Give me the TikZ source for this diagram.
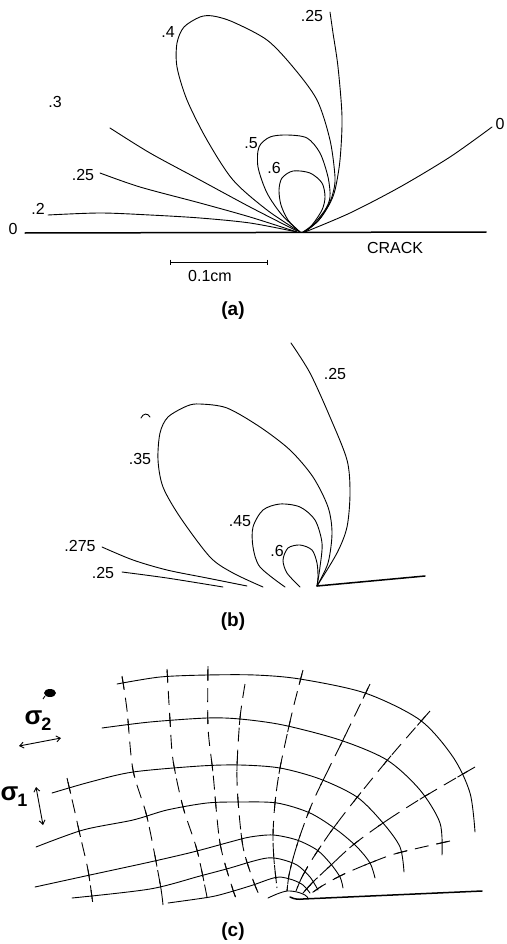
\documentclass[tikz,border=0pt]{standalone}
\usepackage{fontspec}
\setmainfont{Liberation Sans}
\usetikzlibrary{intersections,arrows.meta}
\tikzset{
  curve/.style={line width=0.9pt, line cap=round, line join=round},
  crackline/.style={line width=1.5pt, line cap=round},
  dashline/.style={line width=0.9pt, dash pattern=on 14pt off 8pt},
  lbl/.style={font=\fontsize{16}{16}\selectfont, inner sep=0pt},
  figcap/.style={font=\fontsize{19}{19}\selectfont\bfseries, inner sep=0pt},
  sig/.style={inner sep=0pt},
  twohead/.style={line width=0.9pt, {Straight Barb[length=4pt,width=6pt]}-{Straight Barb[length=4pt,width=6pt]}},
}
\newcommand{\sgm}[1]{{\fontsize{26}{26}\selectfont σ}\kern-1pt\raisebox{-6pt}{\fontsize{18}{18}\selectfont\bfseries #1}}
\newcommand{\setdp}[2]{\expandafter\def\csname dp#1\endcsname{#2}}
\newcommand{\setsp}[2]{\expandafter\def\csname sp#1\endcsname{#2}}
\begin{document}
\begin{tikzpicture}[x=1pt,y=-1pt]
\fill[white] (0,0) rectangle (506,944);
\useasboundingbox (0,0) rectangle (506,944);

% ================= panel (a) =================
\draw[crackline] (25,233) -- (486,232);
\draw[line width=0.9pt] (170,262) -- (267,262);
\draw[line width=0.9pt] (170,259.5) -- (170,264.5);
\draw[line width=0.9pt] (267,259.5) -- (267,264.5);
\node[lbl] (crack) at (395,248) {CRACK};
\node[lbl] (scale) at (210,276) {0.1cm};

\draw[curve] plot[smooth] coordinates {(48,215) (100,213) (150,215) (200,218) (250,223) (297,232)};
\draw[curve] plot[smooth] coordinates {(100,173) (140,187) (200,203) (250,217) (297,232)};
\draw[curve] plot[smooth] coordinates {(110,128) (150,153) (200,180) (250,207) (297,231)};
\draw[curve] plot[smooth] coordinates {(300,232) (267,210) (233,180) (207,140) (187,100) (177,67) (177,43) (184,27) (200,17) (213,16) (233,22) (267,40) (293,67) (317,100) (330,140) (335,177) (333,193) (328,206) (318,221) (304,232)};
\draw[curve] plot[smooth] coordinates {(330,12) (333,33) (338,67) (342,117) (340,160) (335,190) (329,205) (319,220) (305,232)};
\draw[curve] plot[smooth] coordinates {(300,232) (282,215) (267,193) (258,167) (259,147) (270,137) (287,135) (307,138) (320,153) (328,177) (330,197) (325,210) (312,226) (303,232)};
\draw[curve] plot[smooth] coordinates {(300,232) (288,220) (281,205) (279,190) (282,178) (293,171) (310,173) (322,183) (325,197) (322,210) (312,225) (303,232)};
\draw[curve] plot[smooth] coordinates {(305,232) (350,213) (400,187) (450,157) (492,127)};

\node[lbl] (a0) at (13,229) {0};
\node[lbl] (a2) at (38,209) {.2};
\node[lbl] (a25) at (83,175) {.25};
\node[lbl] (a3) at (55,102) {.3};
\node[lbl] (a4) at (168,32) {.4};
\node[lbl] (a25b) at (312,16) {.25};
\node[lbl] (a5) at (251,143) {.5};
\node[lbl] (a6) at (274,168) {.6};
\node[lbl] (a0b) at (500,124) {0};
\node[figcap] (capa) at (233,311) {(a)};

% ================= panel (b) =================
\draw[crackline] (317,586) -- (425,576);
\draw[curve] plot[smooth] coordinates {(291,343) (310,373) (330,417) (347,460) (350,493) (347,527) (337,553) (317,586)};
\draw[curve] plot[smooth] coordinates {(263,587) (233,573) (210,557) (180,517) (163,487) (158,460) (160,433) (168,417) (187,406) (200,404) (227,408) (260,427) (290,450) (313,477) (328,507) (332,533) (328,563) (317,586)};
\draw[curve] plot[smooth] coordinates {(285,587) (260,567) (253,547) (253,527) (263,510) (280,504) (300,507) (315,520) (322,543) (320,567) (317,586)};
\draw[curve] plot[smooth] coordinates {(300,587) (287,573) (283,560) (288,548) (300,545) (312,550) (317,563) (318,577) (317,586)};
\draw[curve] plot[smooth] coordinates {(102,547) (133,560) (167,570) (207,578) (247,586)};
\draw[curve] plot[smooth] coordinates {(122,572) (167,578) (223,587)};
\draw[curve] (141,418) .. controls (143,413) and (148,413) .. (150,417);

\node[lbl] (b25) at (335,374) {.25};
\node[lbl] (b35) at (140,459) {.35};
\node[lbl] (b45) at (240,521) {.45};
\node[lbl] (b6) at (277,551) {.6};
\node[lbl] (b275) at (80,546) {.275};
\node[lbl] (b25b) at (103,573) {.25};
\node[figcap] (capb) at (233,622) {(b)};

% ================= panel (c) =================
\setsp{1}{plot[smooth] coordinates {(117,684) (160,677) (207,675) (255,675) (300,679) (365,693) (420,720) (453,757) (470,793) (475,832)}}
\setsp{2}{plot[smooth] coordinates {(102,728) (150,722) (207,718) (240,719) (283,725) (340,740) (387,760) (420,790) (440,823) (442,855)}}
\setsp{3}{plot[smooth] coordinates {(52,793) (90,782) (133,772) (200,766) (240,765) (280,768) (320,779) (357,797) (383,823) (400,847) (404,872)}}
\setsp{4}{plot[smooth] coordinates {(36,847) (83,830) (133,820) (167,810) (207,803) (240,802) (277,803) (310,813) (337,830) (357,847) (370,863) (375,878)}}
\setsp{5}{plot[smooth] coordinates {(35,887) (90,875) (150,862) (193,852) (230,842) (250,837) (273,835) (297,840) (317,850) (330,863) (340,877) (343,888)}}
\setsp{6}{plot[smooth] coordinates {(72,898) (150,889) (200,876) (230,868) (250,862) (267,858) (280,859) (297,865) (310,877) (318,890)}}
\setsp{7}{plot[smooth] coordinates {(168,903) (210,897) (230,892) (253,885) (270,879) (280,877) (293,880) (303,885) (310,893)}}
\setsp{8}{plot[smooth] coordinates {(268,898) (277,894) (287,891) (297,892) (305,895) (308,898)}}

\setdp{1}{plot[smooth] coordinates {(67,778) (74,808) (80,835) (88,870) (93,905)}}
\setdp{2}{plot[smooth] coordinates {(122,676) (127,710) (133,770) (147,817) (160,883) (163,905)}}
\setdp{3}{plot[smooth] coordinates {(167,669) (170,720) (173,760) (183,807) (197,850) (207,897)}}
\setdp{4}{plot[smooth] coordinates {(208,666) (208,727) (213,773) (220,843) (233,890) (238,902)}}
\setdp{5}{plot[smooth] coordinates {(245,684) (240,718) (237,767) (238,800) (243,847) (253,880) (260,897)}}
\setdp{6}{plot[smooth] coordinates {(303,670) (292,713) (280,768) (275,803) (273,835) (274,860) (277,888)}}
\setdp{7}{plot[smooth] coordinates {(370,684) (343,740) (315,797) (302,830) (294,855) (289,875) (287,891)}}
\setdp{8}{plot[smooth] coordinates {(430,711) (390,757) (355,800) (332,830) (313,858) (302,877) (296,891)}}
\setdp{9}{plot[smooth] coordinates {(475,767) (422,798) (383,823) (353,845) (330,866) (313,882) (303,893)}}
\setdp{10}{plot[smooth] coordinates {(450,841) (398,853) (370,863) (342,875) (322,886) (309,895)}}

\foreach \j in {1,...,8}{
  \expandafter\let\expandafter\curs\csname sp\j\endcsname
  \draw[curve, name path global=\j S] \curs;
}
\foreach \i in {1,...,10}{
  \expandafter\let\expandafter\curd\csname dp\i\endcsname
  \draw[dashline, name path global=\i D] \curd;
}
\foreach \i in {1,...,10}{
  \foreach \j in {1,...,8}{
    \path[name intersections={of=\i D and \j S, name=X, total=\t}] \pgfextra{\xdef\ntot{\t}};
    \ifnum\ntot>0
      \foreach \k in {1,...,\ntot}{
        \begin{scope}
          \clip (X-\k) circle (6);
          \expandafter\let\expandafter\curd\csname dp\i\endcsname
          \draw[curve] \curd;
        \end{scope}
      }
    \fi
  }
}
\draw[crackline] (290,897) .. controls (295,899.5) and (299,899.5) .. (303,899) -- (482,891);

\fill (50,693) ellipse [x radius=6, y radius=4];
\draw[line width=0.9pt] (45,696) -- (43,699);
\node[sig, font=\bfseries] (sig2) at (38,721) {\sgm{2}};
\draw[twohead] (19,746) -- (61,738);
\node[sig, font=\bfseries] (sig1) at (14,797) {\sgm{1}};
\draw[twohead] (36,787) -- (43,825);
\node[figcap] (capc) at (233,932) {(c)};
\end{tikzpicture}
\end{document}
